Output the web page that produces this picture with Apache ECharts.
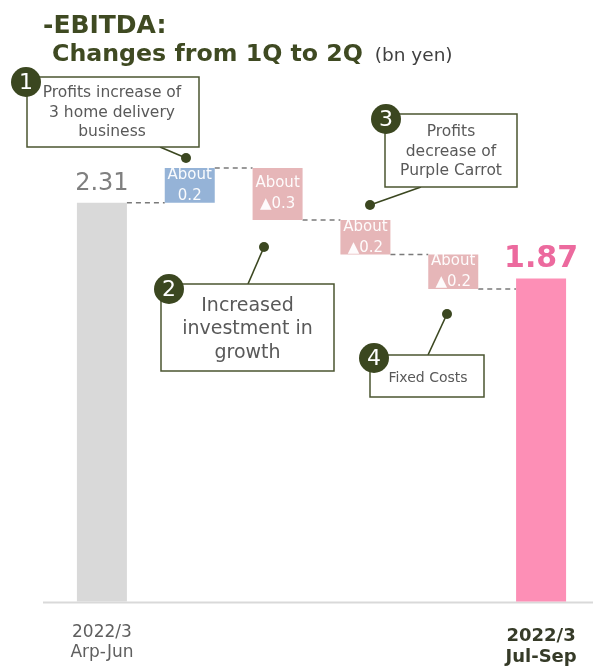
<!DOCTYPE html>
<html>
<head>
<meta charset="utf-8">
<script src="https://cdn.jsdelivr.net/npm/echarts@6/dist/echarts.min.js"></script>
<style>
  html, body { margin: 0; padding: 0; background: #ffffff; }
  #chart { width: 593px; height: 666px; }
</style>
</head>
<body>
<div id="chart"></div>
<script>
// EBITDA bridge, 1Q -> 2Q (bn yen)
const categories = ['2022/3\nArp-Jun', 'delivery', 'investment', 'purple', 'fixed', '2022/3\nJul-Sep'];
const startValue = 2.31;
const deltas = [0.2, -0.3, -0.2, -0.2];
const endValue = 1.87;
const deltaLabels = ['About\n0.2', 'About\n▲0.3', 'About\n▲0.2', 'About\n▲0.2'];
const barColors = ['#d9d9d9', '#95b3d7', '#e6b6b8', '#e6b6b8', '#e6b6b8', '#fd8fb6'];

const FONT = 'DejaVu Sans';
const OLIVE = '#3b4720';
const BAR_W = 50;

// floating bar bases / heights and the running level after each bar
const bases = [0];
const heights = [startValue];
const levels = [startValue];
let running = startValue;
deltas.forEach(d => {
  const next = running + d;
  bases.push(Math.min(running, next));
  heights.push(Math.abs(d));
  running = next;
  levels.push(running);
});
bases.push(0);
heights.push(endValue);

const chart = echarts.init(document.getElementById('chart'));

const visibleData = heights.map((h, i) => {
  const item = { value: h, itemStyle: { color: barColors[i] } };
  if (i === 0) {
    item.label = {
      show: true, position: 'top', distance: 7,
      formatter: String(startValue),
      fontFamily: FONT, fontSize: 24, color: '#7f7f7f'
    };
  } else if (i === heights.length - 1) {
    item.label = {
      show: true, position: 'top', distance: 4,
      formatter: String(endValue),
      fontFamily: FONT, fontSize: 30, fontWeight: 'bold', color: '#ec6a9e'
    };
  } else {
    item.label = {
      show: true, position: 'inside',
      formatter: deltaLabels[i - 1],
      fontFamily: FONT, fontSize: 15, lineHeight: 21, color: 'rgba(255,255,255,0.95)'
    };
  }
  return item;
});

function callout(num, box, circle, lines, fontSize, lineGap, leader) {
  const els = [];
  els.push({
    type: 'line', z: 10,
    shape: { x1: leader[0], y1: leader[1], x2: leader[2], y2: leader[3] },
    style: { stroke: OLIVE, lineWidth: 1.6 }
  });
  els.push({
    type: 'circle', z: 10,
    shape: { cx: leader[2], cy: leader[3], r: 5 },
    style: { fill: OLIVE }
  });
  els.push({
    type: 'rect', z: 11,
    shape: { x: box[0], y: box[1], width: box[2], height: box[3] },
    style: { fill: '#ffffff', stroke: '#4b5531', lineWidth: 1.5 }
  });
  lines.forEach((t, k) => {
    els.push({
      type: 'text', z: 12,
      x: box[0] + box[2] / 2 + (lines.cx || 0), y: lines.y0 + k * lineGap,
      style: {
        text: t, fill: '#595959', font: fontSize + 'px "' + FONT + '"',
        align: 'center', verticalAlign: 'middle'
      }
    });
  });
  els.push({
    type: 'circle', z: 13,
    shape: { cx: circle[0], cy: circle[1], r: circle[2] },
    style: { fill: OLIVE }
  });
  els.push({
    type: 'text', z: 14,
    x: circle[0], y: circle[1] + 1,
    style: {
      text: String(num), fill: '#ffffff', font: '22px "' + FONT + '"',
      align: 'center', verticalAlign: 'middle'
    }
  });
  return els;
}

const lines1 = ['Profits increase of', '3 home delivery', 'business']; lines1.y0 = 93; lines1.cx = -1;
const lines2 = ['Increased', 'investment in', 'growth']; lines2.y0 = 306;
const lines3 = ['Profits', 'decrease of', 'Purple Carrot']; lines3.y0 = 132;
const lines4 = ['Fixed Costs']; lines4.y0 = 378; lines4.cx = 1;

const annotationGraphics = [].concat(
  callout(1, [27, 77, 172, 70], [26, 82, 15], lines1, 15.5, 19.5, [160, 147, 186, 158]),
  callout(2, [161, 284, 173, 87], [169, 289, 15], lines2, 19, 23.5, [248, 284, 264, 247]),
  callout(3, [385, 114, 132, 73], [386, 119, 15], lines3, 15.5, 19.5, [421, 187, 370, 205]),
  callout(4, [370, 355, 114, 42], [374, 358, 15], lines4, 14, 0, [428, 355, 447, 314]),
  [
    {
      type: 'text', left: 43, top: 14,
      style: { text: '-EBITDA:', fill: '#3f4a22', font: 'bold 25px "' + FONT + '"' }
    },
    {
      type: 'text', left: 52, top: 43,
      style: {
        text: '{t|Changes from 1Q to 2Q}{u|  (bn yen)}',
        rich: {
          t: { fill: '#3f4a22', font: 'bold 23.7px "' + FONT + '"' },
          u: { fill: '#404040', font: '18.5px "' + FONT + '"', padding: [2, 0, 0, 0] }
        }
      }
    }
  ]
);

const option = {
  animation: false,
  backgroundColor: '#ffffff',
  grid: { left: 58, right: 8, top: 83.5, bottom: 63 },
  xAxis: {
    type: 'category',
    data: categories,
    axisLine: { show: false },
    axisTick: { show: false },
    axisLabel: {
      interval: 0,
      margin: 21,
      formatter: (val, idx) => {
        const parts = val.split('\n');
        if (idx === 0) return '{a|' + parts[0] + '}\n{a|' + parts[1] + '}';
        if (idx === categories.length - 1) return '{b|' + parts[0] + '}\n{b|' + parts[1] + '}';
        return '';
      },
      rich: {
        a: { fontFamily: FONT, fontSize: 17, color: '#5f5f5f', lineHeight: 20 },
        b: { fontFamily: FONT, fontSize: 18, fontWeight: 'bold', color: '#363b28', lineHeight: 21, padding: [6, 0, 0, 0] }
      }
    }
  },
  yAxis: { type: 'value', min: 0, max: 3, show: false, splitLine: { show: false } },
  series: [
    {
      name: 'base', type: 'bar', stack: 'w', barWidth: BAR_W,
      itemStyle: { color: 'transparent' },
      data: bases, silent: true
    },
    {
      name: 'value', type: 'bar', stack: 'w', barWidth: BAR_W,
      data: visibleData
    },
    {
      name: 'connector', type: 'custom', z: 1,
      data: levels.map((v, i) => [i, v]),
      renderItem: (params, api) => {
        const p = api.coord([api.value(0), api.value(1)]);
        const band = api.size([1, 0])[0];
        return {
          type: 'line',
          shape: { x1: p[0] + BAR_W / 2, y1: p[1], x2: p[0] + band - BAR_W / 2, y2: p[1] },
          style: { stroke: '#7a7a7a', lineWidth: 1.5, lineDash: [5, 4] }
        };
      }
    }
  ],
  graphic: annotationGraphics
};

chart.setOption(option);

// zero baseline spanning the plot width
const y0 = chart.convertToPixel({ yAxisIndex: 0 }, 0);
chart.setOption({
  graphic: annotationGraphics.concat([{
    type: 'line', z: 0,
    shape: { x1: 43, y1: y0 + 1, x2: 593, y2: y0 + 1 },
    style: { stroke: '#d9d9d9', lineWidth: 2 }
  }])
});
</script>
</body>
</html>
